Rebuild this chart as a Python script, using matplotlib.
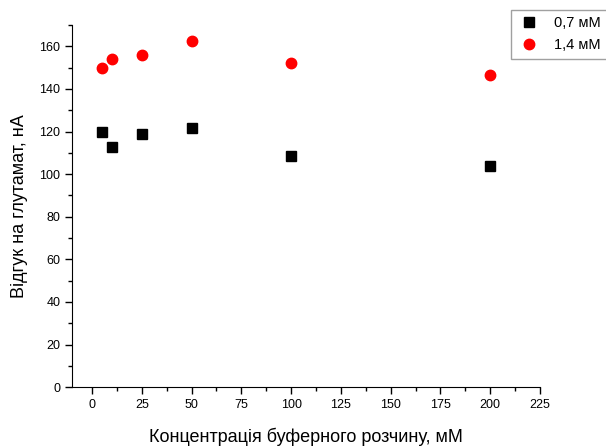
import numpy as np
import matplotlib
matplotlib.use('Agg')
import matplotlib.pyplot as plt
from matplotlib.ticker import MultipleLocator

plt.rcParams['font.family'] = ['Liberation Sans', 'DejaVu Sans']

conc = [5, 10, 25, 50, 100, 200]
resp_07 = [120, 112.5, 119, 121.5, 108.5, 104]
resp_14 = [150, 154, 155.7, 162.3, 152, 146.5]

fig = plt.figure(figsize=(6.06, 4.47), dpi=100)
ax = fig.add_axes([0.119, 0.134, 0.772, 0.810])

ax.plot(conc, resp_07, 's', color='black', markersize=7, label='0,7 мМ')
ax.plot(conc, resp_14, 'o', color='red', markersize=7.5, label='1,4 мМ')

ax.set_xlim(-10, 225)
ax.set_ylim(0, 170)
ax.xaxis.set_major_locator(MultipleLocator(25))
ax.xaxis.set_minor_locator(MultipleLocator(12.5))
ax.yaxis.set_major_locator(MultipleLocator(20))
ax.yaxis.set_minor_locator(MultipleLocator(10))
ax.tick_params(which='major', direction='out', length=5, width=1, labelsize=9)
ax.tick_params(which='minor', direction='out', length=3, width=1)
for s in ['top', 'right']:
    ax.spines[s].set_visible(False)

ax.set_xlabel('Концентрація буферного розчину, мМ', fontsize=13, labelpad=12)
ax.set_ylabel('Відгук на глутамат, нА', fontsize=13, labelpad=8)

leg = ax.legend(loc='upper left', bbox_to_anchor=(0.843, 0.978), bbox_transform=fig.transFigure,
                borderaxespad=0, frameon=True, fancybox=False, fontsize=10.5, borderpad=0.45,
                handletextpad=0.9, labelspacing=0.55, handlelength=1.6)
leg.get_frame().set_edgecolor('#888888')
leg.get_frame().set_linewidth(1)

fig.savefig('out.png', dpi=100)
